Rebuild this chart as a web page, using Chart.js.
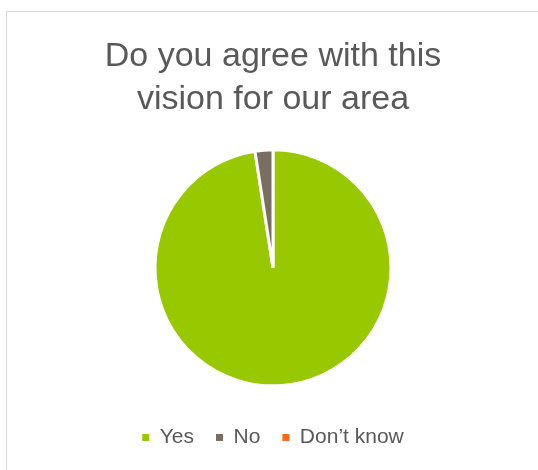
<!DOCTYPE html>
<html>
<head>
<meta charset="utf-8">
<script src="https://cdn.jsdelivr.net/npm/chart.js@4/dist/chart.umd.min.js"></script>
<style>
  html, body { margin: 0; padding: 0; background: #fff; overflow: hidden; }
  #wrap { position: relative; width: 538px; height: 470px; }
  #frame { position: absolute; left: 6px; top: 11px; width: 560px; height: 500px; border: 1px solid #d9d9d9; }
  #wrap canvas { position: absolute; left: 0; top: 0; }
</style>
</head>
<body>
<div id="wrap">
  <div id="frame"></div>
  <canvas id="chart" width="538" height="470"></canvas>
</div>
<script>
const categories = ['Yes', 'No', 'Don\u2019t know'];
const responses = [40, 1, 0];
const sliceColors = ['#97c800', '#786e62', '#ff6a13'];
const titleLines = ['Do you agree with this', 'vision for our area'];

const ctx = document.getElementById('chart').getContext('2d');
new Chart(ctx, {
  type: 'pie',
  data: {
    labels: categories,
    datasets: [{
      data: responses,
      backgroundColor: sliceColors,
      borderColor: '#ffffff',
      borderWidth: 3,
      radius: 118
    }]
  },
  options: {
    responsive: false,
    animation: false,
    layout: { padding: { left: 8, top: 35, bottom: 12 } },
    plugins: {
      title: {
        display: true,
        text: titleLines,
        color: '#595959',
        font: { family: 'Liberation Sans', size: 34, weight: 'normal', lineHeight: 1.26 },
        padding: { top: 0, bottom: 10 }
      },
      legend: {
        position: 'bottom',
        labels: {
          color: '#595959',
          font: { family: 'Liberation Sans', size: 21 },
          boxWidth: 7,
          boxHeight: 7,
          padding: 22,
          generateLabels(chart) {
            // no white outline on the legend swatches
            const items = Chart.overrides.pie.plugins.legend.labels.generateLabels(chart);
            items.forEach(i => { i.lineWidth = 0; });
            return items;
          }
        }
      },
      tooltip: { enabled: false }
    }
  }
});
</script>
</body>
</html>
